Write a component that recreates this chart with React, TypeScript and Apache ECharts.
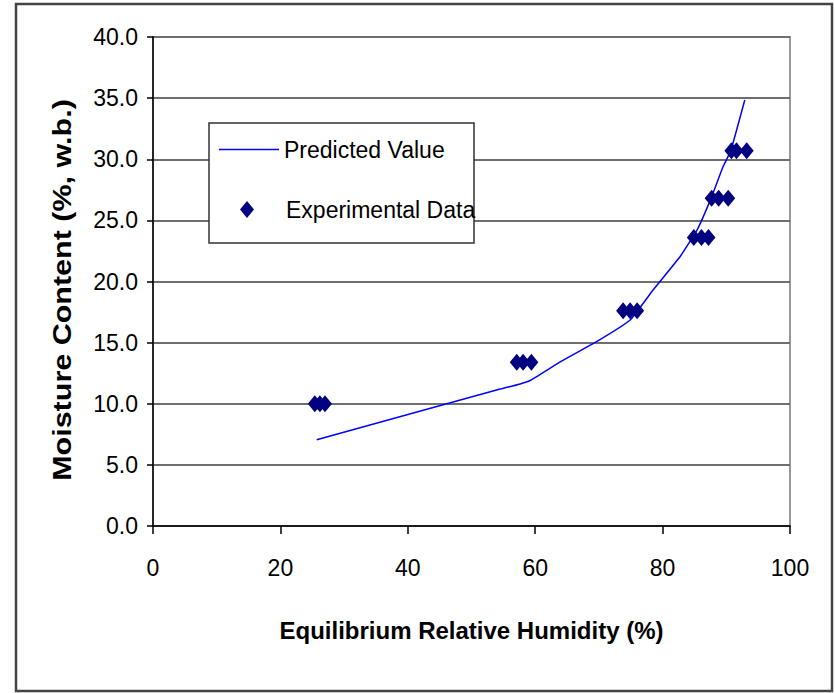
import React, { useEffect, useRef } from "react";
import * as echarts from "echarts";

const xTicks = [0, 20, 40, 60, 80, 100];
const yTicks = [0, 5, 10, 15, 20, 25, 30, 35, 40];

const expERH = [25.4, 26.2, 27.0, 57.1, 58.1, 59.4, 73.8, 74.9, 76.0, 84.9, 86.1, 87.2, 87.7, 88.8, 90.3, 90.8, 91.6, 93.2];
const expMC = [10.0, 10.0, 10.0, 13.4, 13.4, 13.4, 17.6, 17.6, 17.6, 23.6, 23.6, 23.6, 26.8, 26.8, 26.8, 30.7, 30.7, 30.7];

const predERH = [25.7, 54.5, 57.5, 59.2, 64.0, 69.7, 74.9, 78.5, 82.7, 85.4, 87.6, 89.5, 90.7, 92.9];
const predMC = [7.05, 11.2, 11.6, 11.9, 13.45, 15.1, 16.85, 19.3, 22.0, 24.2, 26.8, 29.4, 30.7, 34.85];

const FONT = "'Liberation Sans', Arial, sans-serif";

export default function App() {
  const ref = useRef<HTMLDivElement>(null);
  useEffect(() => {
    document.body.style.margin = "0";
    const chart = echarts.init(ref.current!, undefined, { renderer: "svg" });
    chart.setOption({
      animation: false,
      backgroundColor: "#ffffff",
      textStyle: { fontFamily: FONT, color: "#000" },
      grid: {
        left: 153,
        right: 45,
        top: 37,
        bottom: 167,
        show: true,
        borderColor: "#999999",
        borderWidth: 2,
        backgroundColor: "transparent",
      },
      xAxis: {
        type: "value",
        min: xTicks[0],
        max: xTicks[xTicks.length - 1],
        interval: 20,
        name: "Equilibrium Relative Humidity (%)",
        nameLocation: "middle",
        nameGap: 92,
        nameTextStyle: { fontFamily: FONT, fontSize: 24, fontWeight: "bold", color: "#000" },
        axisLine: { show: true, lineStyle: { color: "#000", width: 1.5 } },
        axisTick: { show: true, inside: false, length: 8, lineStyle: { color: "#000", width: 1.5 } },
        axisLabel: { fontFamily: FONT, fontSize: 23, color: "#000", margin: 30 },
        splitLine: { show: false },
      },
      yAxis: {
        type: "value",
        min: yTicks[0],
        max: yTicks[yTicks.length - 1],
        interval: 5,
        axisLine: { show: true, lineStyle: { color: "#000", width: 1.5 } },
        axisTick: { show: true, inside: false, length: 6, lineStyle: { color: "#000", width: 1.5 } },
        axisLabel: {
          fontFamily: FONT,
          fontSize: 23,
          color: "#000",
          margin: 15,
          formatter: (v: number) => v.toFixed(1),
        },
        splitLine: { show: true, lineStyle: { color: "#6e6e6e", width: 2 } },
      },
      legend: [
        {
          data: [{ name: "Predicted Value", icon: "rect" }],
          left: 219,
          top: 138,
          padding: 0,
          itemWidth: 60,
          itemHeight: 1.5,
          z: 6,
          itemStyle: { color: "#0000ff", borderWidth: 0 },
          textStyle: { fontFamily: FONT, fontSize: 23, color: "#000" },
        },
        {
          data: [{ name: "Experimental Data", icon: "diamond" }],
          left: 240,
          top: 198,
          padding: 0,
          itemWidth: 14,
          itemHeight: 17,
          z: 6,
          itemStyle: { color: "#000080", opacity: 1 },
          textStyle: { fontFamily: FONT, fontSize: 23, color: "#000", padding: [0, 0, 0, 27] },
        },
      ],
      graphic: [
        {
          type: "rect",
          z: 0,
          shape: { x: 16, y: 4, width: 816, height: 687 },
          style: { fill: "none", stroke: "#444", lineWidth: 2.5 },
          silent: true,
        },
        {
          type: "rect",
          z: 4,
          shape: { x: 209, y: 123, width: 265, height: 120 },
          style: { fill: "#fff", stroke: "#333", lineWidth: 1.5 },
          silent: true,
        },
        {
          type: "text",
          x: 62,
          y: 290,
          rotation: Math.PI / 2,
          scaleX: 1.22,
          style: {
            text: "Moisture Content (%, w.b.)",
            font: `bold 25px ${FONT}`,
            fill: "#000",
            align: "center",
            verticalAlign: "middle",
          },
          silent: true,
        },
      ],
      series: [
        {
          name: "Predicted Value",
          type: "line",
          data: predERH.map((x, i) => [x, predMC[i]]),
          symbol: "none",
          smooth: 0.12,
          lineStyle: { color: "#0000ff", width: 1.5 },
          itemStyle: { color: "#0000ff" },
          z: 2,
        },
        {
          name: "Experimental Data",
          type: "scatter",
          data: expERH.map((x, i) => [x, expMC[i]]),
          symbol: "diamond",
          symbolSize: [14, 17],
          itemStyle: { color: "#000080", opacity: 1 },
          z: 3,
        },
      ],
    });
    return () => chart.dispose();
  }, []);
  return (
    <div
      ref={ref}
      style={{ position: "fixed", left: 0, top: 0, width: 835, height: 693 }}
    />
  );
}
